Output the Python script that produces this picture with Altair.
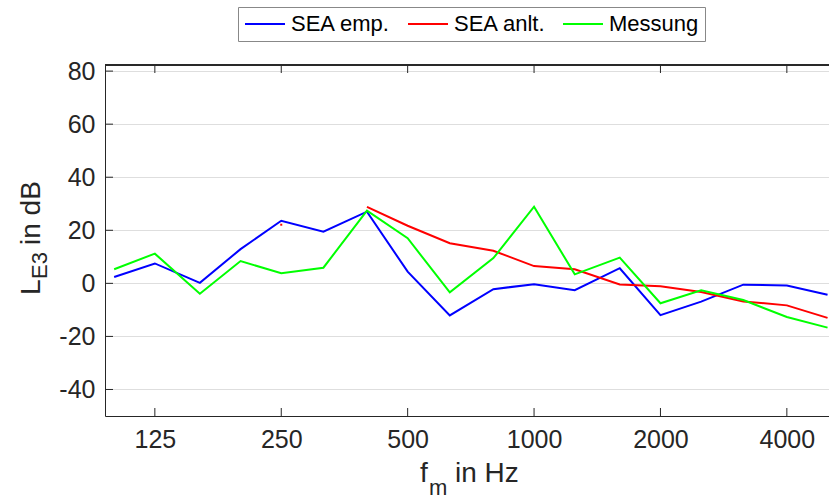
import altair as alt
import pandas as pd

# third-octave centre frequencies (Hz)
freqs = [100, 125, 160, 200, 250, 315, 400, 500, 630, 800, 1000, 1250, 1600, 2000, 2500, 3150, 4000, 5000]
sea_emp = [2.4, 7.5, 0.2, 12.9, 23.6, 19.5, 27.0, 4.4, -12.1, -2.2, -0.3, -2.6, 5.7, -12.0, -6.9, -0.5, -0.8, -4.3]
sea_anlt = [None, None, None, None, 22.1, None, 28.8, 21.7, 15.1, 12.3, 6.5, 5.3, -0.4, -1.1, -3.3, -6.8, -8.3, -13.0]
messung = [5.3, 11.2, -3.9, 8.4, 3.8, 5.9, 27.4, 17.0, -3.4, 9.5, 28.9, 3.4, 9.7, -7.5, -2.6, -6.3, -12.7, -16.7]

series_names = ["SEA emp.", "SEA anlt.", "Messung"]
series_colors = ["#0000ff", "#ff0000", "#00ff00"]
x_ticks = [125, 250, 500, 1000, 2000, 4000]
y_ticks = [-40, -20, 0, 20, 40, 60, 80]

rows = []
for name, vals in zip(series_names, [sea_emp, sea_anlt, messung]):
    seg = 0
    prev_none = True
    for f, v in zip(freqs, vals):
        if v is None:
            prev_none = True
            continue
        if prev_none:
            seg += 1
        prev_none = False
        rows.append(dict(freq=f, value=v, series=name, seg=f"{name}-{seg}"))
df = pd.DataFrame(rows)
counts = df.groupby("seg")["seg"].transform("count")
df_lines = df[counts > 1]
df_pts = df[counts == 1]

W, H = 724, 351
FONT = "Liberation Sans"
TXT = "#262626"
xscale = alt.Scale(type="log", domain=[95.1, 5040], nice=False)
yscale = alt.Scale(domain=[-50, 82.3], nice=False, zero=False)
cscale = alt.Scale(domain=series_names, range=series_colors)

xaxis = alt.Axis(values=x_ticks, labelExpr="toString(datum.value)", title=None, ticks=False, grid=False,
                 labelPadding=11, labelFontSize=25, labelFont=FONT, labelColor=TXT,
                 domainColor=TXT, labelFlush=False)
yaxis = alt.Axis(values=y_ticks, labelExpr="toString(datum.value)", title=None, ticks=False, grid=True,
                 gridColor="#dedede", labelPadding=10, labelFontSize=25, labelFont=FONT,
                 labelColor=TXT, domainColor=TXT)

lines = alt.Chart(df_lines).mark_line(strokeWidth=2, clip=True).encode(
    x=alt.X("freq:Q", scale=xscale, axis=xaxis),
    y=alt.Y("value:Q", scale=yscale, axis=yaxis),
    color=alt.Color("series:N", scale=cscale, sort=series_names,
                    legend=alt.Legend(title=None, orient="none", legendX=133, legendY=-58,
                                      direction="horizontal", symbolType="M-2,0L2,0", symbolSize=400,
                                      symbolStrokeWidth=2, symbolOffset=10, labelFontSize=22,
                                      labelFont=FONT, labelColor="black", strokeColor="#888888",
                                      fillColor="white", padding=6, columnPadding=13,
                                      labelOffset=15)),
    detail="seg:N",
)

pts = alt.Chart(df_pts).mark_square(size=4, opacity=1).encode(
    x=alt.X("freq:Q", scale=xscale, axis=xaxis),
    y=alt.Y("value:Q", scale=yscale, axis=yaxis),
    color=alt.Color("series:N", scale=cscale, legend=None),
)

xt = pd.DataFrame({"freq": x_ticks})
yt = pd.DataFrame({"value": y_ticks})
tick_style = dict(color=TXT, strokeWidth=1)
bottom_ticks = alt.Chart(xt).mark_rule(**tick_style).encode(
    x=alt.X("freq:Q", scale=xscale, axis=xaxis), y=alt.value(H), y2=alt.value(H - 8))
top_ticks = alt.Chart(xt).mark_rule(**tick_style).encode(
    x=alt.X("freq:Q", scale=xscale, axis=xaxis), y=alt.value(0), y2=alt.value(8))
left_ticks = alt.Chart(yt).mark_rule(**tick_style).encode(
    y=alt.Y("value:Q", scale=yscale, axis=yaxis), x=alt.value(0), x2=alt.value(8))
top_line = alt.Chart(xt).mark_rule(**tick_style).encode(
    x=alt.value(0), x2=alt.value(W), y=alt.value(0))

dummy = pd.DataFrame({"d": [0]})

def txt(s, x, y, size, angle=0):
    return alt.Chart(dummy).mark_text(text=s, font=FONT, fontSize=size, color=TXT, align="left",
                                      baseline="alphabetic", angle=angle).encode(
        x=alt.value(x), y=alt.value(y))

# x title  f_m in Hz
xt1 = txt("f", 315, 417, 28)
xt2 = txt("m", 324, 430, 22)
xt3 = txt("in Hz", 350, 417, 28)
# y title  L_E3 in dB
yt1 = txt("L", -65, 230, 28, 270)
yt2 = txt("E3", -58, 214, 22, 270)
yt3 = txt("in dB", -65, 180, 28, 270)

chart = alt.layer(
    lines, pts, bottom_ticks, top_ticks, left_ticks, top_line, xt1, xt2, xt3, yt1, yt2, yt3
).resolve_legend(color="independent").properties(
    width=W, height=H,
    padding={"left": 105, "top": 65, "right": 0, "bottom": 84},
    autosize=alt.AutoSizeParams(type="none"),
    background="white",
).configure_view(stroke=None)

chart.save("out.html", embed_options={"renderer": "svg", "actions": False})
